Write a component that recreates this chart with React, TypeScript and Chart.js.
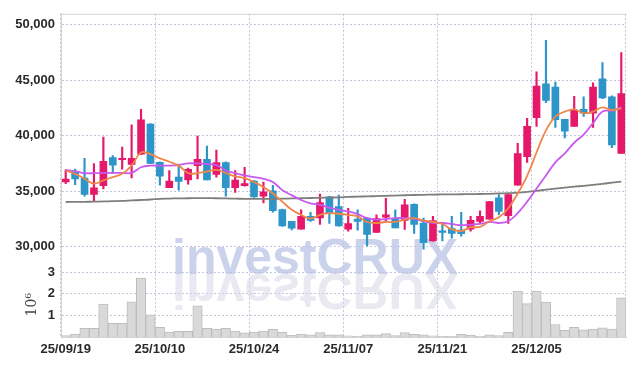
import { useEffect, useRef } from 'react';
import { Chart, registerables } from 'chart.js';

Chart.register(...registerables);

const dates = [
  '25/09/19', '25/09/22', '25/09/23', '25/09/24', '25/09/25', '25/09/26', '25/09/29', '25/09/30', '25/10/01', '25/10/02',
  '25/10/10', '25/10/13', '25/10/14', '25/10/15', '25/10/16', '25/10/17', '25/10/20', '25/10/21', '25/10/22', '25/10/23',
  '25/10/24', '25/10/27', '25/10/28', '25/10/29', '25/10/30', '25/10/31', '25/11/03', '25/11/04', '25/11/05', '25/11/06',
  '25/11/07', '25/11/10', '25/11/11', '25/11/12', '25/11/13', '25/11/14', '25/11/17', '25/11/18', '25/11/19', '25/11/20',
  '25/11/21', '25/11/24', '25/11/25', '25/11/26', '25/11/27', '25/11/28', '25/12/01', '25/12/02', '25/12/03', '25/12/04',
  '25/12/05', '25/12/08', '25/12/09', '25/12/10', '25/12/11', '25/12/12', '25/12/15', '25/12/16', '25/12/17', '25/12/18',
];

const opens = [
  35850, 36800, 36200, 34720, 35510, 38050, 37850, 37430, 38350, 41060,
  37610, 35340, 36280, 36040, 37310, 37880, 36520, 37600, 35340, 35510,
  35930, 34570, 35050, 33360, 32300, 31590, 32740, 32600, 34510, 33630,
  31590, 32500, 32600, 31300, 32680, 32540, 32390, 33830, 32150, 30530,
  31440, 31650, 31500, 31590, 32300, 32500, 34420, 32800, 35550, 38120,
  41650, 44700, 44400, 41500, 40860, 42390, 42040, 45130, 43510, 38410,
];
const highs = [
  36930, 37000, 37970, 37500, 39890, 38230, 39000, 41000, 42390, 41100,
  37650, 36880, 37460, 37100, 39970, 39090, 38730, 37650, 36880, 37170,
  36000, 35840, 35550, 33400, 32300, 33340, 33120, 34750, 34560, 34660,
  33480, 33340, 32650, 32890, 34360, 33340, 34270, 33870, 32590, 32740,
  32150, 32740, 33100, 32740, 33250, 34070, 34720, 34720, 39320, 41590,
  45780, 48600, 44840, 41500, 43570, 43510, 44780, 46610, 43600, 47500,
];
const lows = [
  35690, 35600, 34570, 34160, 35220, 36610, 37000, 36200, 38300, 37500,
  35550, 35340, 35100, 35640, 36130, 36040, 36280, 34570, 34900, 35460,
  34450, 33960, 33120, 31850, 31530, 31590, 32300, 32010, 32100, 31860,
  31420, 31500, 30090, 31300, 32300, 31710, 31570, 31210, 29800, 30500,
  30530, 30770, 30970, 31420, 32150, 32500, 32890, 32100, 35550, 37610,
  40860, 43000, 40770, 39820, 40860, 41750, 40770, 43360, 38940, 38410,
];
const closes = [
  36100, 36130, 34720, 35310, 37700, 37370, 37900, 37970, 41440, 37520,
  36360, 35930, 35900, 36990, 37880, 36040, 37600, 35340, 36020, 35690,
  34500, 34960, 33270, 31880, 31680, 32740, 32390, 33980, 33000, 31890,
  32100, 32300, 31120, 32540, 32890, 31710, 33780, 32010, 30380, 32360,
  31300, 31200, 31180, 32390, 32740, 34070, 33190, 34720, 38400, 40860,
  44490, 43200, 41450, 40420, 42330, 42040, 44400, 43420, 39180, 43810,
];
const volumes = [
  70000, 140000, 400000, 400000, 1530000, 630000, 630000, 1630000, 2740000, 1030000,
  450000, 230000, 260000, 260000, 1450000, 400000, 370000, 400000, 280000, 190000,
  230000, 280000, 360000, 230000, 80000, 140000, 100000, 210000, 100000, 100000,
  60000, 30000, 100000, 100000, 160000, 70000, 210000, 120000, 100000, 60000,
  30000, 30000, 120000, 90000, 30000, 100000, 70000, 220000, 2130000, 1550000,
  2130000, 1620000, 580000, 310000, 450000, 330000, 370000, 420000, 370000, 1820000,
];
const ma5 = [
  36880, 36580, 36130, 35690, 35990, 36280, 36580, 37320, 38500, 38350,
  37970, 37670, 37320, 36640, 36640, 36790, 36930, 36640, 36350, 36200,
  35840, 35400, 34800, 34070, 33340, 32890, 32540, 32890, 33030, 32980,
  32890, 32740, 32240, 32150, 32240, 32240, 32450, 32590, 32360, 32260,
  32060, 31570, 31420, 31770, 31800, 32300, 32660, 33480, 34800, 36400,
  38500, 40500, 41740, 42190, 42390, 42040, 42190, 42570, 42330, 42480,
];
const ma10 = [
  36930, 36820, 36640, 36640, 36660, 36660, 36660, 36660, 37170, 37320,
  37320, 37320, 37370, 37520, 37520, 37460, 37370, 36880, 36640, 36430,
  36280, 36130, 35840, 35110, 34660, 34220, 33920, 33780, 33540, 33340,
  33190, 32950, 32590, 32450, 32510, 32590, 32590, 32540, 32300, 32150,
  32150, 32060, 31950, 32010, 32060, 32240, 32150, 32300, 33040, 34070,
  35250, 36430, 37610, 38430, 39380, 40120, 41150, 42190, 42280, 42570,
];
const ma60 = [
  34040, 34050, 34060, 34070, 34090, 34115, 34140, 34180, 34220, 34265,
  34330, 34350, 34370, 34380, 34390, 34390, 34380, 34360, 34340, 34330,
  34320, 34320, 34330, 34340, 34360, 34380, 34400, 34420, 34440, 34460,
  34500, 34520, 34550, 34570, 34600, 34620, 34650, 34670, 34690, 34710,
  34720, 34730, 34740, 34750, 34760, 34780, 34810, 34840, 34880, 34950,
  35050, 35150, 35240, 35330, 35420, 35500, 35590, 35680, 35780, 35880,
];
const priceTicks = [30000, 35000, 40000, 45000, 50000];
const volumeTicks = [1000000, 2000000, 3000000];
const watermarkText = 'investCRUX';

const UP = '#E5186A';
const DOWN = '#2E95C8';
const GRID = '#C3C6DA';
const EDGE = '#D2D2D2';
const TICK_FONT = { family: "'Liberation Sans', Arial, sans-serif", size: 13, weight: 'bold' };
const TICK_COLOR = '#2a2a2a';

const watermark = {
  id: 'watermark',
  beforeDatasetsDraw(chart: any) {
    const { ctx, chartArea } = chart;
    const base = chart.scales.yv.top + 2;
    const x = chartArea.left + 111;
    ctx.save();
    ctx.font = "bold 50px 'Liberation Sans', Arial, sans-serif";
    ctx.textBaseline = 'alphabetic';
    ctx.textAlign = 'left';
    ctx.fillStyle = 'rgba(188,197,230,0.78)';
    ctx.fillText(watermarkText, x, base);
    ctx.translate(0, base * 2);
    ctx.scale(1, -1);
    ctx.fillStyle = 'rgba(215,215,232,0.55)';
    ctx.fillText(watermarkText, x, base);
    ctx.restore();
  },
};

const frame = {
  id: 'frame',
  afterDraw(chart: any) {
    const { ctx, chartArea } = chart;
    ctx.save();
    ctx.strokeStyle = EDGE;
    ctx.lineWidth = 1;
    ctx.beginPath();
    ctx.moveTo(chartArea.left, chartArea.top + 0.5);
    ctx.lineTo(chartArea.right, chartArea.top + 0.5);
    ctx.stroke();
    ctx.strokeStyle = GRID;
    ctx.setLineDash([2, 2]);
    ctx.beginPath();
    ctx.moveTo(chartArea.right - 0.5, chartArea.top);
    ctx.lineTo(chartArea.right - 0.5, chartArea.bottom);
    ctx.stroke();
    ctx.restore();
  },
};

export default function App() {
  const ref = useRef<HTMLCanvasElement>(null);
  useEffect(() => {
    const colors = closes.map((c, i) => (c >= opens[i] ? UP : DOWN));
    const chart = new Chart(ref.current as HTMLCanvasElement, {
      type: 'bar',
      data: {
        labels: dates,
        datasets: [
          { type: 'line', label: 'MA5', data: ma5, borderColor: '#F0874A', borderWidth: 1.8, pointRadius: 0, tension: 0.4, yAxisID: 'y', order: 0 } as any,
          { type: 'line', label: 'MA10', data: ma10, borderColor: '#C85AF0', borderWidth: 1.8, pointRadius: 0, tension: 0.4, yAxisID: 'y', order: 0 } as any,
          { type: 'line', label: 'MA60', data: ma60, borderColor: '#7E7E7E', borderWidth: 1.8, pointRadius: 0, tension: 0.4, yAxisID: 'y', order: 0 } as any,
          { type: 'bar', label: 'body', data: opens.map((o, i) => [o, closes[i]]), backgroundColor: colors, barThickness: 7, minBarLength: 1.5, grouped: false, yAxisID: 'y', order: 1 } as any,
          { type: 'bar', label: 'wick', data: lows.map((l, i) => [l, highs[i]]), backgroundColor: colors, barThickness: 1.5, grouped: false, yAxisID: 'y', order: 2 } as any,
          { type: 'bar', label: 'volume', data: volumes, backgroundColor: '#D9D9D9', borderColor: '#BDBDBD', borderWidth: 1, barPercentage: 1, categoryPercentage: 1, grouped: false, yAxisID: 'yv', order: 3 } as any,
        ],
      },
      options: {
        responsive: false,
        animation: false,
        devicePixelRatio: 1,
        layout: { padding: { top: 9, right: 8, left: 0, bottom: 0 } },
        plugins: { legend: { display: false }, tooltip: { enabled: false } },
        scales: {
          x: {
            type: 'category',
            offset: true,
            afterFit: (s: any) => { s.height = 29; },
            grid: { color: (c: any) => (c.index % 10 === 0 ? GRID : 'transparent'), drawTicks: false },
            border: { display: true, color: EDGE, dash: [2, 2] },
            ticks: {
              autoSkip: false, maxRotation: 0, padding: 5, font: TICK_FONT, color: TICK_COLOR,
              callback: (_v: any, i: number) => (i % 10 === 0 ? dates[i] : ''),
            },
          },
          yv: {
            type: 'linear', position: 'left', stack: 'main', stackWeight: 1,
            min: 0, max: 3000000,
            afterBuildTicks: (s: any) => { s.ticks = volumeTicks.map((v) => ({ value: v })); },
            afterFit: (s: any) => { s.width = 61; },
            grid: { color: GRID, drawTicks: false },
            border: { display: true, color: EDGE, dash: [2, 2] },
            ticks: { autoSkip: false, padding: 6, font: TICK_FONT, color: TICK_COLOR, callback: (v: any) => String(Number(v) / 1000000) },
            title: { display: true, text: '10⁶', color: '#444', font: { family: "'DejaVu Serif', 'Liberation Serif', serif", size: 14 }, padding: { top: 24, bottom: 0 } },
          },
          y: {
            type: 'linear', position: 'left', stack: 'main', stackWeight: 4,
            min: 27700, max: 51000,
            afterBuildTicks: (s: any) => { s.ticks = priceTicks.map((v) => ({ value: v })); },
            afterFit: (s: any) => { s.width = 61; },
            grid: { color: GRID, drawTicks: false },
            border: { display: true, color: EDGE, dash: [2, 2] },
            ticks: { autoSkip: false, padding: 6, font: TICK_FONT, color: TICK_COLOR, callback: (v: any) => Number(v).toLocaleString('en-US') },
          },
        },
      } as any,
      plugins: [watermark, frame],
    });
    return () => chart.destroy();
  }, []);
  return (
    <div style={{ position: 'fixed', left: 0, top: 0, width: 634, height: 366, background: '#fff' }}>
      <canvas ref={ref} width={634} height={366} style={{ width: 634, height: 366, display: 'block' }} />
    </div>
  );
}
